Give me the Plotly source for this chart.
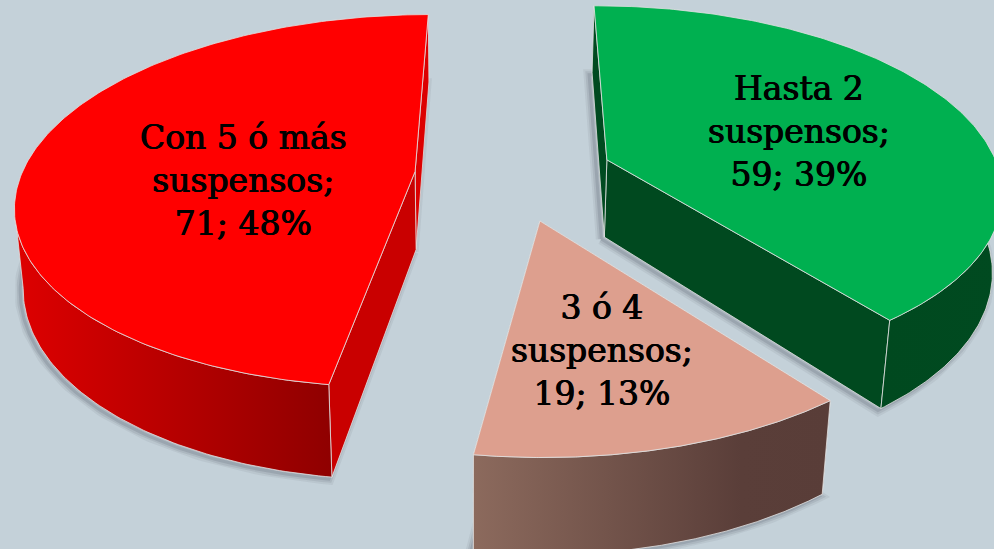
import numpy as np
import plotly.graph_objects as go

# Data
categories = ["Hasta 2<br>suspensos;", "3 ó 4<br>suspensos;", "Con 5 ó más<br>suspensos;"]
counts = [59, 19, 71]
percents = [39, 13, 48]

# Look of each slice
top_colors = ["#00b050", "#dd9f8e", "#ff0000"]
wall_scales = [
    [[0, "#00491f"], [1, "#004a20"]],
    [[0, "#8c6a5d"], [0.75, "#5a3e39"], [1, "#593d38"]],
    [[0, "#de0000"], [1, "#8f0000"]],
]
cut_colors = ["#004a20", "#5a3e39", "#c90000"]
strip_colors = ["#00491f", "#5a3e39", "#dc0000"]
label_pos = [(799, 131), (602, 350), (243, 180)]
draw_order = [2, 0, 1]

BG = "#c4d1d9"
EDGE = "rgba(225,225,225,0.8)"
WIDTH, HEIGHT = 994, 549

# Perspective of the tilted pie
VANISH_X, VANISH_Y, PLANE_H, DEPTH = 525, -981, 1151, 2490
RADIUS, PULL, CENTER_X, CENTER_Y = 392, 99, -11, -10
ROTATION = np.radians(-0.3)
THICK, DROP_DEPTH, DROP_X = 78, 4200, 470


def project(x, y, z=0.0):
    w = 1 / (1 + np.asarray(y, dtype=float) / DEPTH)
    sx = VANISH_X + np.asarray(x, dtype=float) * w
    sy = VANISH_Y + PLANE_H * w
    drop = z * THICK * w
    sx = sx - (sx - DROP_X) * drop / DROP_DEPTH
    return sx, sy + drop


def poly(fig, xs, ys, color=None, gradient=None, line=EDGE, lw=1):
    args = dict(x=list(xs), y=list(ys), mode="lines", fill="toself", hoverinfo="skip",
                line=dict(color=line, width=lw))
    if gradient:
        args["fillgradient"] = dict(type="horizontal", colorscale=gradient)
    else:
        args["fillcolor"] = color
    fig.add_trace(go.Scatter(**args))


fig = go.Figure()

# angles run clockwise from the top of the pie
edges = np.cumsum([0] + counts) / sum(counts) * 2 * np.pi + ROTATION
slices = {}
for i in range(len(counts)):
    a0, a1 = edges[i], edges[i + 1]
    mid = (a0 + a1) / 2
    ax = CENTER_X + PULL * np.sin(mid)
    ay = CENTER_Y + PULL * np.cos(mid)
    t = np.linspace(a0, a1, 200)
    slices[i] = (ax, ay, ax + RADIUS * np.sin(t), ay + RADIUS * np.cos(t), t)

# soft shadow under each slice
for i in draw_order:
    ax, ay, px, py, t = slices[i]
    bx, by = project(np.r_[ax, px], np.r_[ay, py], 1.0)
    for lw, alpha in [(11, 0.07), (7, 0.1), (3, 0.14)]:
        fig.add_trace(go.Scatter(x=list(bx - 3) + [bx[0] - 3], y=list(by + 2) + [by[0] + 2], mode="lines",
                                 hoverinfo="skip",
                                 line=dict(color=f"rgba(50,60,70,{alpha})", width=lw)))

for i in draw_order:
    ax, ay, px, py, t = slices[i]
    # cut faces
    for k, col in [(-1, strip_colors[i]), (0, cut_colors[i])]:
        x0, y0 = project(ax, ay, 0)
        x1, y1 = project(ax, ay, 1)
        x2, y2 = project(px[k], py[k], 1)
        x3, y3 = project(px[k], py[k], 0)
        poly(fig, [x0, x1, x2, x3, x0], [y0, y1, y2, y3, y0], color=col)
    # outer wall, only the part facing the viewer: it stops at the leftmost point of the rim
    limit = t[np.argmin(project(px, py)[0])] if t[-1] > 1.5 * np.pi else t[-1]
    keep = (t >= np.pi / 2) & (t <= limit)
    if keep.any():
        tx, ty = project(px[keep], py[keep], 0)
        bx, by = project(px[keep], py[keep], 1)
        poly(fig, np.r_[tx, bx[::-1], tx[0]], np.r_[ty, by[::-1], ty[0]], gradient=wall_scales[i])
    # top face
    fx, fy = project(np.r_[ax, px, ax], np.r_[ay, py, ay], 0)
    poly(fig, fx, fy, color=top_colors[i])

# the reference type is heavier than DejaVu Serif regular, a hairline shadow thickens it
for i in range(len(counts)):
    fig.add_annotation(x=label_pos[i][0], y=label_pos[i][1], showarrow=False, align="center",
                       text=f"{categories[i]}<br>{counts[i]}; {percents[i]}%",
                       font=dict(family="DejaVu Serif", size=33, color="black",
                                 shadow="0.5px 0 0 black, -0.5px 0 0 black"))

fig.update_layout(
    width=WIDTH, height=HEIGHT,
    margin=dict(l=0, r=0, t=0, b=0),
    paper_bgcolor=BG, plot_bgcolor=BG,
    showlegend=False,
    xaxis=dict(range=[0, WIDTH], visible=False, fixedrange=True),
    yaxis=dict(range=[HEIGHT, 0], visible=False, fixedrange=True),
)

fig.write_html("out.html", config=dict(displayModeBar=False),
               post_script="document.body.style.margin='0';document.body.style.background='#c4d1d9';")
